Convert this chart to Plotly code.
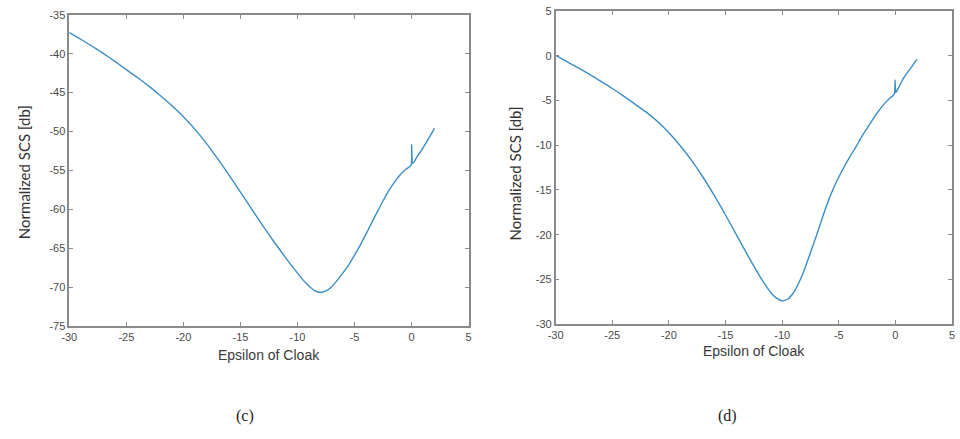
import plotly.graph_objects as go

# (c) curve
eps_c = [-30, -29, -28, -27, -26, -25, -24, -23, -22, -21, -20, -19, -18, -17, -16, -15, -14, -13, -12, -11, -10, -9.5, -9, -8.5, -8, -7.5, -7, -6.5, -6, -5.5, -5, -4.5, -4, -3.5, -3, -2.5, -2, -1.5, -1, -0.5, -0.05, 0.0, 0.1, 0.5, 1.0, 1.5, 2.0]
scs_c = [-37.3, -38.15, -39.05, -40.0, -41.0, -42.05, -43.1, -44.2, -45.4, -46.7, -48.1, -49.7, -51.5, -53.5, -55.6, -57.8, -60.0, -62.2, -64.3, -66.3, -68.2, -69.1, -69.85, -70.45, -70.7, -70.5, -69.95, -69.1, -68.15, -67.1, -65.9, -64.6, -63.2, -61.75, -60.3, -58.9, -57.6, -56.5, -55.55, -54.85, -54.35, -51.7, -54.1, -53.2, -52.1, -50.9, -49.6]

# (d) curve
eps_d = [-30, -29, -28, -27, -26, -25, -24, -23, -22, -21, -20, -19, -18, -17, -16, -15, -14, -13, -12, -11.5, -11, -10.5, -10, -9.5, -9, -8.5, -8, -7.5, -7, -6.5, -6, -5.5, -5, -4.5, -4, -3.5, -3, -2.5, -2, -1.5, -1, -0.5, -0.1, -0.03, 0.03, 0.3, 0.72, 1.3, 1.9]
scs_d = [0.05, -0.65, -1.35, -2.08, -2.85, -3.65, -4.5, -5.4, -6.3, -7.35, -8.6, -10.05, -11.7, -13.55, -15.6, -17.8, -20.1, -22.4, -24.6, -25.6, -26.5, -27.1, -27.4, -27.2, -26.5, -25.3, -23.8, -22.0, -20.2, -18.3, -16.5, -14.9, -13.55, -12.35, -11.25, -10.2, -9.1, -8.1, -7.1, -6.2, -5.4, -4.75, -4.3, -2.7, -4.1, -3.5, -2.5, -1.45, -0.4]

x_ticks = [-30, -25, -20, -15, -10, -5, 0, 5]
y_ticks_c = [-75, -70, -65, -60, -55, -50, -45, -40, -35]
y_ticks_d = [-30, -25, -20, -15, -10, -5, 0, 5]

x_title = "Epsilon of Cloak"
y_title = "Normalized SCS [db]"
captions = ["(c)", "(d)"]

W, H = 960, 439
line_color = "#3b8dc5"
axis_color = "#8a8a8a"
tick_font = dict(family="Liberation Sans, Arial", size=11, color="#4a4a4a")

fig = go.Figure()
fig.add_trace(go.Scatter(x=eps_c, y=scs_c, mode="lines",
                         line=dict(color=line_color, width=1.4, shape="spline", smoothing=0.6),
                         xaxis="x", yaxis="y", showlegend=False))
fig.add_trace(go.Scatter(x=eps_d, y=scs_d, mode="lines",
                         line=dict(color=line_color, width=1.4, shape="spline", smoothing=0.6),
                         xaxis="x2", yaxis="y2", showlegend=False))

def ax(domain, rng, ticks, anchor):
    return dict(domain=domain, range=rng, tickvals=ticks, ticktext=[str(t) for t in ticks],
                showline=True, linecolor=axis_color, linewidth=1.5, mirror="ticks",
                ticks="inside", ticklen=4, tickcolor=axis_color, tickwidth=1,
                showgrid=False, zeroline=False, tickfont=tick_font, anchor=anchor,
                ticklabeloverflow="allow")

# pixel geometry
lx0, lx1, ly0, ly1 = 62, 466, 9, 329
rx0, rx1, ry0, ry1 = 554, 955, 5.3, 327

fig.update_layout(
    width=W, height=H, margin=dict(l=0, r=0, t=0, b=0),
    paper_bgcolor="white", plot_bgcolor="white",
    xaxis=ax([lx0 / W, lx1 / W], [-30, 5], x_ticks, "y"),
    yaxis=ax([1 - ly1 / H, 1 - ly0 / H], [-75, -35], y_ticks_c, "x"),
    xaxis2=ax([rx0 / W, rx1 / W], [-30, 5], x_ticks, "y2"),
    yaxis2=ax([1 - ry1 / H, 1 - ry0 / H], [-30, 5], y_ticks_d, "x2"),
)

ann = []
title_font = dict(family="Liberation Sans, Arial", size=14, color="#3a3a3a")
ylab_font = dict(family="Lato, Open Sans", size=15, color="#333333")
cap_font = dict(family="Liberation Serif, Times New Roman", size=16, color="#222222")
for cx, cy_title, yx, yy in [((lx0 + lx1) / 2, 359, 17, 171),
                             ((rx0 + rx1) / 2, 355, 513, 172)]:
    ann.append(dict(x=cx / W, y=1 - cy_title / H, xref="paper", yref="paper", text=x_title,
                    showarrow=False, font=title_font, xanchor="center", yanchor="middle"))
    ann.append(dict(x=yx / W, y=1 - yy / H, xref="paper", yref="paper", text=y_title,
                    showarrow=False, font=ylab_font, textangle=-90, xanchor="center", yanchor="middle"))
ann.append(dict(x=240 / W, y=1 - 422 / H, xref="paper", yref="paper", text=captions[0],
                showarrow=False, font=cap_font, xanchor="center", yanchor="middle"))
ann.append(dict(x=728 / W, y=1 - 422 / H, xref="paper", yref="paper", text=captions[1],
                showarrow=False, font=cap_font, xanchor="center", yanchor="middle"))
fig.update_layout(annotations=ann)

fig.write_html("out.html", config={"displayModeBar": False},
               post_script="document.body.style.margin='0px';document.body.style.overflow='hidden';")
